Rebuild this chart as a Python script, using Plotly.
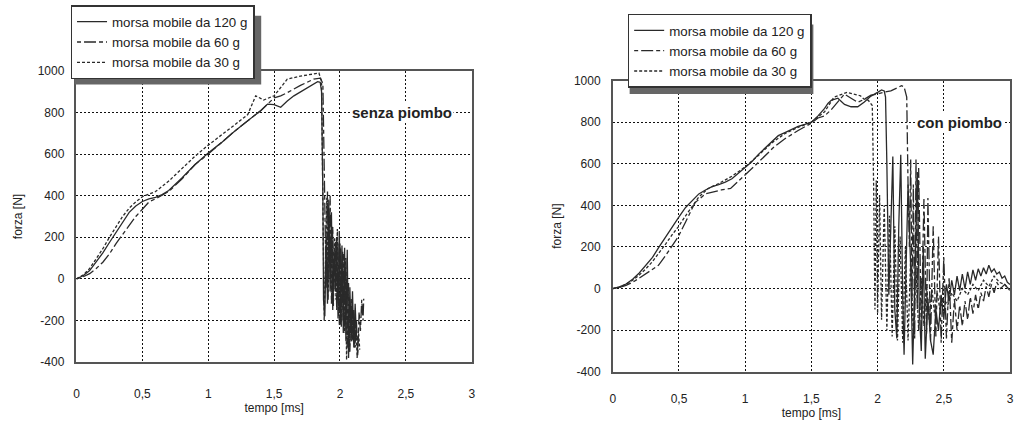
import plotly.graph_objects as go

# ---------------- data: senza piombo (left) ----------------
L120_t = [0, 0.05, 0.1, 0.15, 0.2, 0.25, 0.3, 0.35, 0.4, 0.45, 0.5, 0.55, 0.6, 0.65, 0.7, 0.8, 0.9, 1.0,
          1.1, 1.2, 1.3, 1.4, 1.45, 1.5, 1.55, 1.6, 1.65, 1.7, 1.75, 1.8, 1.83, 1.85, 1.86,
          1.87, 1.875, 1.885, 1.895, 1.905, 1.915, 1.925, 1.935, 1.945, 1.955, 1.965, 1.975, 1.985,
          1.995, 2.005, 2.015, 2.025, 2.035, 2.045, 2.055, 2.065, 2.075, 2.085, 2.095, 2.105, 2.115, 2.125]
L120_f = [0, 15, 40, 80, 125, 175, 225, 275, 320, 350, 372, 385, 392, 405, 425, 485, 550, 605,
          655, 710, 760, 810, 840, 838, 825, 855, 880, 900, 920, 940, 948, 945, 900,
          400, -100, -180, 200, -120, 380, -60, 320, -150, 150, -60, 200, -190,
          230, -220, 160, -260, 150, -300, 140, -380, -40, -300, -60, -330, -120, -280]

L60_t = [0, 0.05, 0.1, 0.15, 0.2, 0.25, 0.3, 0.35, 0.4, 0.45, 0.5, 0.55, 0.6, 0.7, 0.8, 0.9, 1.0,
         1.1, 1.2, 1.3, 1.4, 1.5, 1.55, 1.6, 1.7, 1.8, 1.85, 1.87, 1.88,
         1.885, 1.895, 1.905, 1.915, 1.925, 1.935, 1.945, 1.955, 1.965, 1.975, 1.985, 1.995, 2.005,
         2.015, 2.025, 2.035, 2.045, 2.055, 2.065, 2.075, 2.085, 2.095, 2.105, 2.115, 2.125, 2.135,
         2.145, 2.155, 2.165, 2.175, 2.18]
L60_f = [0, 10, 25, 50, 80, 120, 170, 215, 260, 300, 335, 370, 385, 420, 480, 550, 600,
         655, 710, 760, 810, 870, 880, 895, 930, 960, 965, 940, 600,
         450, -50, 420, 0, 400, -120, 250, -50, 180, -150, 170, -220, 150,
         -200, 120, -250, 100, -330, -20, -350, -90, -300, -150, -330, -200, -370,
         -160, -250, -100, -200, -95]

L30_t = [0, 0.05, 0.1, 0.15, 0.2, 0.25, 0.3, 0.35, 0.4, 0.45, 0.5, 0.6, 0.7, 0.8, 0.9, 1.0,
         1.1, 1.2, 1.3, 1.36, 1.42, 1.5, 1.6, 1.7, 1.8, 1.84, 1.86,
         1.87, 1.88, 1.89, 1.90, 1.91, 1.92, 1.93, 1.94, 1.95, 1.96, 1.97, 1.98, 1.99, 2.00,
         2.01, 2.02, 2.03, 2.04, 2.05, 2.06, 2.07, 2.08, 2.09, 2.10, 2.11, 2.12, 2.13, 2.14, 2.15]
L30_f = [0, 18, 50, 95, 145, 200, 250, 300, 340, 370, 395, 420, 470, 530, 590, 643,
         690, 740, 790, 880, 860, 880, 960, 975, 985, 990, 950,
         200, -200, 100, 390, -100, 300, -50, 250, -130, 200, -100, 240, -180, 170,
         -230, 130, -260, 100, -390, -150, -350, -200, -300, -150, -330, -200, -380, -250, -340]

# ---------------- data: con piombo (right) ----------------
R120_t = [0, 0.05, 0.1, 0.15, 0.2, 0.25, 0.3, 0.35, 0.4, 0.45, 0.5, 0.55, 0.6, 0.65, 0.7, 0.75, 0.8,
          0.85, 0.9, 0.95, 1.0, 1.05, 1.1, 1.15, 1.2, 1.25, 1.3, 1.35, 1.4, 1.45, 1.5, 1.55, 1.6,
          1.625, 1.65, 1.7, 1.75, 1.8, 1.85, 1.9, 1.95, 2.0, 2.03, 2.05, 2.06,
          2.07, 2.085, 2.1, 2.115, 2.13, 2.145, 2.16, 2.175, 2.19, 2.2, 2.215, 2.23, 2.25, 2.265,
          2.28, 2.3, 2.315, 2.33, 2.345, 2.36, 2.38, 2.4, 2.42, 2.44, 2.46, 2.48, 2.5, 2.52, 2.54,
          2.56, 2.58, 2.6, 2.62, 2.64, 2.66, 2.68, 2.7, 2.72, 2.74, 2.76, 2.78, 2.8, 2.82, 2.84,
          2.86, 2.88, 2.9, 2.92, 2.94, 2.96, 2.98, 3.0]
R120_f = [0, 8, 22, 45, 75, 110, 150, 200, 250, 300, 345, 390, 425, 455, 474, 490, 500,
          512, 528, 555, 581, 610, 645, 674, 705, 735, 750, 765, 780, 789, 800, 830, 866,
          890, 905, 915, 885, 874, 874, 897, 925, 943, 955, 950, 920,
          600, -30, 300, 635, -100, -240, 300, 643, -50, -318, 100, 500, 100, -365,
          0, 560, -100, -300, 200, -337, -50, -250, -318, -100, -200, -30, -150, 20, -60,
          40, -30, 60, -10, 70, 0, 80, 20, 90, 40, 95, 60, 100, 70, 112,
          80, 95, 70, 80, 50, 60, 30, 20]

R60_t = [0, 0.05, 0.1, 0.15, 0.2, 0.25, 0.3, 0.345, 0.4, 0.45, 0.495, 0.55, 0.62, 0.7, 0.82, 0.89,
         0.995, 1.095, 1.22, 1.3, 1.4, 1.5, 1.55, 1.6, 1.65, 1.7, 1.75, 1.8, 1.85, 1.9, 1.95, 2.0,
         2.05, 2.1, 2.15, 2.18, 2.2, 2.22, 2.23,
         2.24, 2.25, 2.26, 2.27, 2.28, 2.29, 2.30, 2.31, 2.33, 2.35, 2.37, 2.38, 2.40, 2.42, 2.44,
         2.46, 2.48, 2.50, 2.52, 2.54, 2.56, 2.58, 2.60, 2.62, 2.64, 2.66, 2.68, 2.70, 2.72, 2.74,
         2.76, 2.78, 2.80, 2.82, 2.84, 2.86, 2.88, 2.9, 2.93, 2.96, 3.0]
R60_f = [0, 5, 15, 30, 50, 70, 90, 112, 160, 205, 250, 320, 412, 455, 474, 481,
         543, 604, 682, 720, 760, 795, 820, 830, 860, 900, 935, 915, 895, 910, 930, 935,
         945, 950, 965, 975, 970, 920, 500,
         200, 620, -50, 500, -240, 620, -100, 580, -200, 430, -220, 435, -250, 300, -230,
         250, -260, 150, -240, 50, -260, -50, -200, -80, -180, -60, -150, -40, -120, -30,
         -100, -20, -60, 10, -40, 20, -20, 30, 0, 20, -10]

R30_t = [0, 0.05, 0.1, 0.15, 0.2, 0.25, 0.3, 0.35, 0.4, 0.45, 0.495, 0.55, 0.6, 0.65, 0.72, 0.8,
         0.9, 1.0, 1.1, 1.2, 1.3, 1.4, 1.5, 1.6, 1.67, 1.72, 1.77, 1.82, 1.87, 1.895, 1.93, 1.96,
         1.97, 1.98, 1.99, 2.0, 2.015, 2.03, 2.05, 2.07, 2.09, 2.11, 2.13, 2.15, 2.17, 2.19, 2.21,
         2.23, 2.25, 2.27, 2.29, 2.31, 2.33, 2.35, 2.37, 2.39, 2.41, 2.43, 2.45, 2.47, 2.5, 2.53,
         2.56, 2.6, 2.64, 2.68, 2.72, 2.76, 2.8, 2.84, 2.88, 2.92, 2.96, 3.0]
R30_f = [0, 7, 20, 40, 65, 95, 130, 170, 215, 260, 297, 350, 395, 440, 481, 505,
         540, 585, 640, 700, 745, 775, 800, 850, 920, 930, 943, 935, 927, 912, 905, 880,
         500, -100, 520, -120, 450, -150, 400, -200, 350, -230, 300, -250, 250, -260, 200,
         -250, 150, -220, 100, -200, 50, -180, 20, -150, 0, -120, -20, -100, -50, -80,
         -20, -60, 0, -30, 20, -10, 40, 10, 60, 30, 20, -10]

names = ["morsa mobile da 120 g", "morsa mobile da 60 g", "morsa mobile da 30 g"]
x_ticks = [0, 0.5, 1, 1.5, 2, 2.5, 3]
x_ticktext = ["0", "0,5", "1", "1,5", "2", "2,5", "3"]
y_ticks = [-400, -200, 0, 200, 400, 600, 800, 1000]
y_ticktext = ["-400", "-200", "0", "200", "400", "600", "800", "1000"]

W, H = 1015, 432
FONT = "Liberation Sans, Arial, sans-serif"
INK = "#2a2a2a"
dashes = ["solid", "4px,3px,12px,3px", "3px,2px"]

fig = go.Figure()
left = [(L120_t, L120_f), (L60_t, L60_f), (L30_t, L30_f)]
right = [(R120_t, R120_f), (R60_t, R60_f), (R30_t, R30_f)]
for i, (t, f) in enumerate(left):
    fig.add_trace(go.Scatter(x=t, y=f, mode="lines", name=names[i], xaxis="x", yaxis="y",
                             legend="legend", line=dict(color=INK, width=1.3, dash=dashes[i])))
for i, (t, f) in enumerate(right):
    fig.add_trace(go.Scatter(x=t, y=f, mode="lines", name=names[i], xaxis="x2", yaxis="y2",
                             legend="legend2", line=dict(color=INK, width=1.3, dash=dashes[i])))

def px_x(p):
    return p / W

def px_y(p):
    return 1 - p / H

axis_common = dict(
    showline=True, mirror=True, linecolor="#555", linewidth=1.5,
    showgrid=True, gridcolor="#111", gridwidth=1, griddash="2px,2px",
    zeroline=False, ticks="", tickfont=dict(family=FONT, size=12, color="#222"),
)

fig.update_layout(
    width=W, height=H,
    margin=dict(l=0, r=0, t=0, b=0),
    paper_bgcolor="white", plot_bgcolor="white",
    font=dict(family=FONT, size=12, color="#222"),
    xaxis=dict(domain=[px_x(74), px_x(472)], anchor="y", range=[0, 3],
               tickvals=x_ticks, ticktext=x_ticktext, ticklabelstandoff=20,
               title=dict(text="tempo [ms]", standoff=3, font=dict(size=12)), **axis_common),
    yaxis=dict(domain=[px_y(367), px_y(66)], anchor="x", range=[-400, 1000],
               tickvals=y_ticks, ticktext=y_ticktext, ticklabelstandoff=8,
               title=dict(text="forza [N]", standoff=12, font=dict(size=12)), **axis_common),
    xaxis2=dict(domain=[px_x(614), px_x(1014)], anchor="y2", range=[0, 3],
                tickvals=x_ticks, ticktext=x_ticktext, ticklabelstandoff=15,
                title=dict(text="tempo [ms]", standoff=4, font=dict(size=12)), **axis_common),
    yaxis2=dict(domain=[px_y(377), px_y(76)], anchor="x2", range=[-400, 1000],
                tickvals=y_ticks, ticktext=y_ticktext, ticklabelstandoff=8,
                title=dict(text="forza [N]", standoff=10, font=dict(size=12)), **axis_common),
    legend=dict(x=px_x(68), y=px_y(-2), xanchor="left", yanchor="top",
                bgcolor="white", bordercolor="#333", borderwidth=1.5,
                font=dict(family=FONT, size=13.3, color="#222")),
    legend2=dict(x=px_x(629), y=px_y(7), xanchor="left", yanchor="top",
                 bgcolor="white", bordercolor="#333", borderwidth=1.5,
                 font=dict(family=FONT, size=13.3, color="#222")),
    showlegend=True,
)

# legend drop shadows (only the offset strip peeks out from under the opaque legend)
fig.add_shape(type="rect", xref="paper", yref="paper", layer="above",
              x0=px_x(72), x1=px_x(260), y0=px_y(80), y1=px_y(9),
              fillcolor="#666", line=dict(width=0))
fig.add_shape(type="rect", xref="paper", yref="paper", layer="above",
              x0=px_x(631), x1=px_x(816), y0=px_y(90), y1=px_y(18),
              fillcolor="#666", line=dict(width=0))

fig.add_annotation(x=2.47, y=800, xref="x", yref="y", text="<b>senza piombo</b>", showarrow=False,
                   bgcolor="white", font=dict(family=FONT, size=15, color="#222"))
fig.add_annotation(x=2.62, y=800, xref="x2", yref="y2", text="<b>con piombo</b>", showarrow=False,
                   bgcolor="white", font=dict(family=FONT, size=15, color="#222"))

fig.write_html("out.html")
